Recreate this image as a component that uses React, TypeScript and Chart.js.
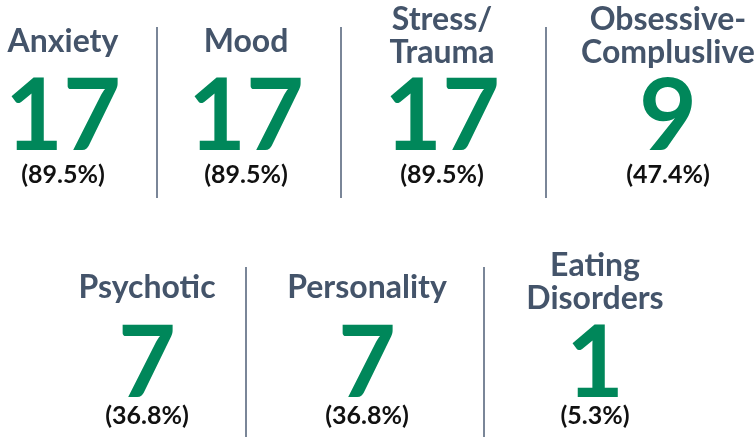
import React, { useEffect, useRef } from "react";
import { Chart, registerables } from "chart.js";

Chart.register(...registerables);

// Data
const categories: string[][] = [
  ["Anxiety"],
  ["Mood"],
  ["Stress/", "Trauma"],
  ["Obsessive-", "Compluslive"],
  ["Psychotic"],
  ["Personality"],
  ["Eating", "Disorders"],
];
const counts: number[] = [17, 17, 17, 9, 7, 7, 1];
const percentLabels: string[] = ["(89.5%)", "(89.5%)", "(89.5%)", "(47.4%)", "(36.8%)", "(36.8%)", "(5.3%)"];

// Layout (styling, not data)
const ROWS = [
  { items: [0, 1, 2, 3], centers: [63, 246, 442, 668], dividers: [157, 341, 546], titleBase: 52, numBase: 150, pctBase: 183, divTop: 27, divBottom: 198 },
  { items: [4, 5, 6], centers: [147, 367, 595], dividers: [246, 484], titleBase: 298, numBase: 397, pctBase: 424, divTop: 267, divBottom: 437 },
];
const TITLE_COLOR = "#44546a";
const NUM_COLOR = "#00875a";
const PCT_COLOR = "#111111";
const DIV_COLOR = "#7a8698";

const textPlugin = {
  id: "infographic",
  afterDraw(chart: any) {
    const ctx = chart.ctx as CanvasRenderingContext2D;
    const xs = chart.scales.x;
    const ys = chart.scales.y;
    const px = (v: number) => xs.getPixelForValue(v);
    const py = (v: number) => ys.getPixelForValue(v);
    ctx.save();
    ctx.textAlign = "center";
    ctx.textBaseline = "alphabetic";
    for (const row of ROWS) {
      ctx.strokeStyle = DIV_COLOR;
      ctx.lineWidth = 2;
      for (const d of row.dividers) {
        ctx.beginPath();
        ctx.moveTo(px(d), py(row.divTop));
        ctx.lineTo(px(d), py(row.divBottom));
        ctx.stroke();
      }
      row.items.forEach((idx, k) => {
        const cx = px(row.centers[k]);
        const lines = categories[idx];
        ctx.fillStyle = TITLE_COLOR;
        ctx.font = "700 32px Lato";
        if (lines.length === 1) {
          ctx.fillText(lines[0], cx, py(row.titleBase));
        } else {
          ctx.fillText(lines[0], cx, py(row.titleBase - 22));
          ctx.fillText(lines[1], cx, py(row.titleBase + 11));
        }
        ctx.fillStyle = NUM_COLOR;
        ctx.font = "700 100px Lato";
        ctx.fillText(String(counts[idx]), cx, py(row.numBase));
        ctx.fillStyle = PCT_COLOR;
        ctx.font = "700 25px Lato";
        ctx.fillText(percentLabels[idx], cx, py(row.pctBase));
      });
    }
    ctx.restore();
  },
};

export default function App() {
  const ref = useRef<HTMLCanvasElement | null>(null);
  useEffect(() => {
    document.body.style.margin = "0";
    const canvas = ref.current!;
    const chart = new Chart(canvas, {
      type: "scatter",
      data: { datasets: [{ data: [], pointRadius: 0 }] },
      options: {
        animation: false,
        responsive: false,
        maintainAspectRatio: false,
        layout: { padding: 0 },
        plugins: { legend: { display: false }, tooltip: { enabled: false } },
        scales: {
          x: { type: "linear", min: 0, max: 756, display: false },
          y: { type: "linear", min: 0, max: 437, reverse: true, display: false },
        },
      },
      plugins: [textPlugin],
    });
    return () => chart.destroy();
  }, []);
  return (
    <div style={{ width: 756, height: 437, background: "#ffffff" }}>
      <canvas ref={ref} width={756} height={437} style={{ display: "block" }} />
    </div>
  );
}
